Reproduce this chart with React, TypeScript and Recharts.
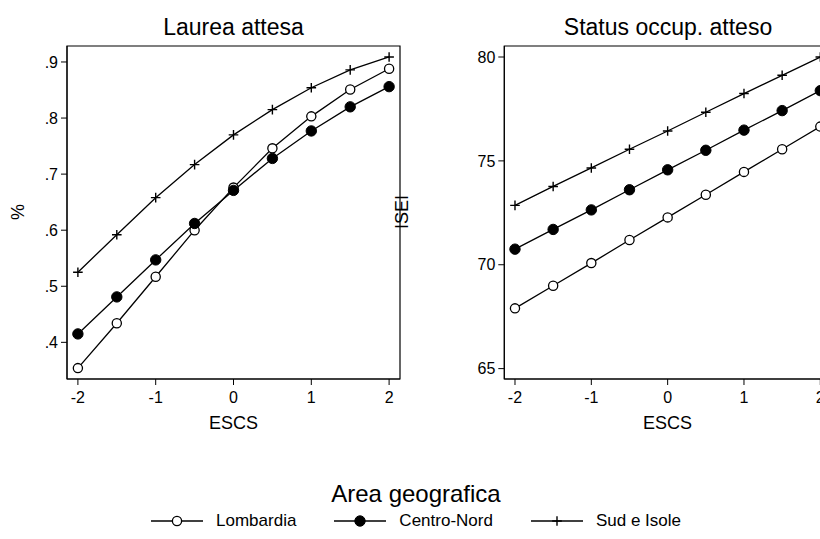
import { Line, LineChart, ReferenceArea, XAxis, YAxis } from "recharts";

const escs = [-2, -1.5, -1, -0.5, 0, 0.5, 1, 1.5, 2];
const escsTicks = [-2, -1, 0, 1, 2];
const escsDomain: [number, number] = [-2.14, 2.14];

const laureaLombardia = [0.354, 0.434, 0.517, 0.6, 0.676, 0.746, 0.803, 0.851, 0.888];
const laureaCentroNord = [0.415, 0.481, 0.547, 0.612, 0.671, 0.728, 0.777, 0.82, 0.856];
const laureaSud = [0.525, 0.592, 0.658, 0.717, 0.77, 0.815, 0.854, 0.886, 0.909];
const laureaTicks = [0.4, 0.5, 0.6, 0.7, 0.8, 0.9];

const iseiLombardia = [67.9, 68.99, 70.08, 71.19, 72.28, 73.37, 74.47, 75.56, 76.65];
const iseiCentroNord = [70.75, 71.7, 72.64, 73.61, 74.57, 75.51, 76.48, 77.42, 78.38];
const iseiSud = [72.86, 73.77, 74.66, 75.56, 76.44, 77.34, 78.24, 79.12, 80.0];
const iseiTicks = [65, 70, 75, 80];

const areas = ["Lombardia", "Centro-Nord", "Sud e Isole"];
const areaKeys = ["lom", "cen", "sud"];
type MarkerKind = "open" | "filled" | "plus";
const areaMarkers: MarkerKind[] = ["open", "filled", "plus"];

const FONT = "'Liberation Sans', Arial, sans-serif";

const laureaData = escs.map((x, i) => ({ x, lom: laureaLombardia[i], cen: laureaCentroNord[i], sud: laureaSud[i] }));
const iseiData = escs.map((x, i) => ({ x, lom: iseiLombardia[i], cen: iseiCentroNord[i], sud: iseiSud[i] }));

function Marker({ cx, cy, kind }: { cx: number; cy: number; kind: MarkerKind }) {
  if (kind === "open") return <circle cx={cx} cy={cy} r={4.6} fill="#fff" stroke="#000" strokeWidth={1.3} />;
  if (kind === "filled") return <circle cx={cx} cy={cy} r={5.2} fill="#000" stroke="#000" />;
  return (
    <path
      d={`M${cx - 4.8},${cy}H${cx + 4.8}M${cx},${cy - 4.8}V${cy + 4.8}`}
      stroke="#000"
      strokeWidth={1.4}
      fill="none"
    />
  );
}

interface PanelProps {
  left: number;
  width: number;
  yAxisWidth: number;
  marginRight: number;
  data: Record<string, number>[];
  yDomain: [number, number];
  yTicks: number[];
  fmt: (v: number) => string;
}

function Panel({ left, width, yAxisWidth, marginRight, data, yDomain, yTicks, fmt }: PanelProps) {
  const tick = { fill: "#000", fontSize: 16, fontFamily: FONT };
  return (
    <div style={{ position: "absolute", left, top: 0 }}>
      <LineChart width={width} height={440} data={data} margin={{ top: 46, right: marginRight, bottom: 21, left: 0 }}>
        <ReferenceArea
          x1={escsDomain[0]}
          x2={escsDomain[1]}
          y1={yDomain[0]}
          y2={yDomain[1]}
          fill="none"
          fillOpacity={0}
          stroke="#000"
          strokeWidth={1.2}
          ifOverflow="visible"
        />
        <XAxis
          dataKey="x"
          type="number"
          domain={escsDomain}
          ticks={escsTicks}
          allowDataOverflow
          height={40}
          tick={tick}
          tickSize={6}
          tickMargin={7}
          stroke="#000"
          tickLine={{ stroke: "#000" }}
        />
        <YAxis
          type="number"
          domain={yDomain}
          ticks={yTicks}
          allowDataOverflow
          width={yAxisWidth}
          tick={tick}
          tickFormatter={fmt}
          tickSize={6}
          tickMargin={3}
          stroke="#000"
          tickLine={{ stroke: "#000" }}
        />
        {areaKeys.map((k, i) => (
          <Line
            key={k}
            dataKey={k}
            stroke="#000"
            strokeWidth={1.3}
            isAnimationActive={false}
            dot={(p: any) => <Marker key={`${k}-${p.index}`} cx={p.cx} cy={p.cy} kind={areaMarkers[i]} />}
            activeDot={false}
          />
        ))}
      </LineChart>
    </div>
  );
}

export default function App() {
  return (
    <div style={{ position: "absolute", left: 0, top: 0, width: 820, height: 539, overflow: "hidden", background: "#fff", fontFamily: FONT }}>
      <Panel
        left={0}
        width={420}
        yAxisWidth={67}
        marginRight={20}
        data={laureaData}
        yDomain={[0.3346, 0.9285]}
        yTicks={laureaTicks}
        fmt={(v) => v.toFixed(1).replace(/^0/, "")}
      />
      <Panel
        left={420}
        width={430}
        yAxisWidth={84.3}
        marginRight={19}
        data={iseiData}
        yDomain={[64.5, 80.53]}
        yTicks={iseiTicks}
        fmt={(v) => String(v)}
      />
      <svg width={820} height={539} style={{ position: "absolute", left: 0, top: 0, pointerEvents: "none" }} fontFamily={FONT}>
        <text x={233.5} y={35} fontSize={23} textAnchor="middle">Laurea attesa</text>
        <text x={668} y={35} fontSize={23} textAnchor="middle">Status occup. atteso</text>
        <text x={233.5} y={429} fontSize={18} textAnchor="middle">ESCS</text>
        <text x={667.5} y={429} fontSize={18} textAnchor="middle">ESCS</text>
        <text x={18} y={212} fontSize={18} textAnchor="middle" dominantBaseline="central" transform="rotate(-90 18 212)">%</text>
        <text x={402} y={212} fontSize={18} textAnchor="middle" dominantBaseline="central" transform="rotate(-90 402 212)">ISEI</text>
        <text x={416} y={502} fontSize={24} textAnchor="middle">Area geografica</text>
      </svg>
      <div
        style={{
          position: "absolute",
          left: 0,
          width: 832,
          top: 511,
          height: 20,
          display: "flex",
          justifyContent: "center",
          alignItems: "center",
          gap: 38,
          fontSize: 17,
          lineHeight: "20px",
        }}
      >
        {areas.map((name, i) => (
          <div key={name} style={{ display: "flex", alignItems: "center" }}>
            <svg width={52} height={20} style={{ marginRight: 13 }}>
              <line x1={0} y1={10} x2={52} y2={10} stroke="#000" strokeWidth={1.3} />
              <Marker cx={26} cy={10} kind={areaMarkers[i]} />
            </svg>
            <span>{name}</span>
          </div>
        ))}
      </div>
    </div>
  );
}
